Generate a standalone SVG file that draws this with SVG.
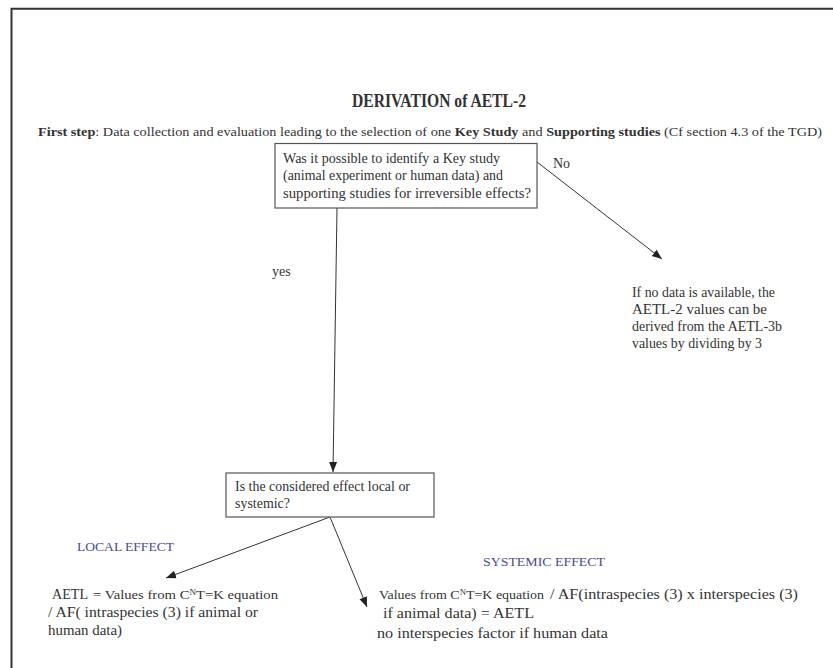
<svg xmlns="http://www.w3.org/2000/svg" width="833" height="668" viewBox="0 0 833 668">
<style>
text{font-family:"Liberation Serif","Times New Roman",serif;fill:#333;}
.b{font-size:14px;}
.s{font-size:13px;}
.lbl{font-size:12.5px;fill:#4a4a96;}
.box{fill:#fff;stroke:#555;stroke-width:1.2;}
.ln{stroke:#333;stroke-width:1;fill:none;marker-end:url(#ah);}
</style>
<defs>
<marker id="ah" viewBox="0 0 10 10" refX="10" refY="5" markerWidth="10" markerHeight="10" markerUnits="userSpaceOnUse" orient="auto">
<path d="M0,1 L10,5 L0,9 z" fill="#222"/>
</marker>
</defs>
<rect width="833" height="668" fill="#fff"/>
<path d="M11.5,668 V8.7 H833" fill="none" stroke="#333" stroke-width="2"/>
<g id="title">
<text x="352" y="107" font-size="19" font-weight="bold" textLength="174" lengthAdjust="spacingAndGlyphs">DERIVATION of AETL-2</text>
<text x="38" y="136" font-size="12.5" textLength="784" lengthAdjust="spacingAndGlyphs"><tspan font-weight="bold">First step</tspan>: Data collection and evaluation leading to the selection of one <tspan font-weight="bold">Key Study</tspan> and <tspan font-weight="bold">Supporting studies</tspan> (Cf section 4.3 of the TGD)</text>
</g>
<g id="connectors">
<line class="ln" x1="337" y1="208" x2="333" y2="472"/>
<line class="ln" x1="537" y1="162" x2="662" y2="259"/>
<line class="ln" x1="330" y1="517" x2="166" y2="578"/>
<line class="ln" x1="330" y1="517" x2="367" y2="607"/>
<text class="b" x="553" y="168">No</text>
<text class="b" x="272" y="276">yes</text>
</g>
<g id="q1">
<rect class="box" x="275" y="143.5" width="262" height="64.5"/>
<text class="b" x="283" y="162.5" textLength="217" lengthAdjust="spacingAndGlyphs">Was it possible to identify a Key study</text>
<text class="b" x="283" y="180" textLength="220" lengthAdjust="spacingAndGlyphs">(animal experiment or human data) and</text>
<text class="b" x="283" y="197.5" textLength="248" lengthAdjust="spacingAndGlyphs">supporting studies for irreversible effects?</text>
</g>
<g id="nodata">
<text class="b" x="632" y="297" textLength="143" lengthAdjust="spacingAndGlyphs">If no data is available, the</text>
<text class="b" x="632" y="314" textLength="135" lengthAdjust="spacingAndGlyphs">AETL-2 values can be</text>
<text class="b" x="632" y="331" textLength="150" lengthAdjust="spacingAndGlyphs">derived from the AETL-3b</text>
<text class="b" x="632" y="348" textLength="130" lengthAdjust="spacingAndGlyphs">values by dividing by 3</text>
</g>
<g id="q2">
<rect class="box" x="226" y="473" width="208" height="44"/>
<text class="b" x="235" y="491" textLength="175" lengthAdjust="spacingAndGlyphs">Is the considered effect local or</text>
<text class="b" x="235" y="508" textLength="55" lengthAdjust="spacingAndGlyphs">systemic?</text>
</g>
<g id="local">
<text class="lbl" x="77" y="551" textLength="97" lengthAdjust="spacingAndGlyphs">LOCAL EFFECT</text>
<text class="b" x="52" y="599" textLength="36" lengthAdjust="spacingAndGlyphs">AETL</text>
<text class="s" x="93" y="599" textLength="185" lengthAdjust="spacingAndGlyphs">= Values from C<tspan font-size="8" dy="-4">N</tspan><tspan dy="4">T=K equation</tspan></text>
<text class="b" x="48" y="617" textLength="210" lengthAdjust="spacingAndGlyphs">/ AF( intraspecies (3) if animal or</text>
<text class="b" x="48" y="635" textLength="74" lengthAdjust="spacingAndGlyphs">human data)</text>
</g>
<g id="systemic">
<text class="lbl" x="483" y="566" textLength="122" lengthAdjust="spacingAndGlyphs">SYSTEMIC EFFECT</text>
<text class="s" x="379" y="599" textLength="165" lengthAdjust="spacingAndGlyphs">Values from C<tspan font-size="8" dy="-4">N</tspan><tspan dy="4">T=K equation</tspan></text>
<text class="b" x="550" y="599" textLength="248" lengthAdjust="spacingAndGlyphs">/ AF(intraspecies (3) x interspecies (3)</text>
<text class="b" x="383" y="618" textLength="151" lengthAdjust="spacingAndGlyphs">if animal data) = AETL</text>
<text class="b" x="377" y="638" textLength="231" lengthAdjust="spacingAndGlyphs">no interspecies factor if human data</text>
</g>
</svg>
